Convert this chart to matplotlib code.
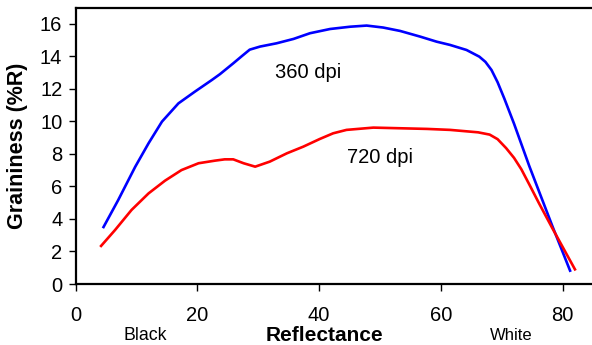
import matplotlib
matplotlib.use('Agg')
import matplotlib.pyplot as plt
import numpy as np

plt.rcParams['font.family'] = ['Liberation Sans', 'DejaVu Sans']

### data ###
x_360 = [4.6, 7.0, 9.8, 12.0, 14.2, 16.9, 19.6, 22.4, 23.7, 25.9, 27.3, 28.6, 30.3, 33.0,
         35.8, 38.5, 41.8, 45.1, 47.8, 50.5, 53.3, 56.6, 59.3, 61.5, 64.2, 66.3,
         67.3, 68.3, 69.3, 70.4, 72.0, 74.5, 78.3, 81.2]
y_360 = [3.5, 5.15, 7.2, 8.65, 9.98, 11.1, 11.82, 12.54, 12.89, 13.56, 14.0, 14.4, 14.59, 14.79,
         15.06, 15.41, 15.67, 15.81, 15.88, 15.76, 15.55, 15.2, 14.89, 14.69, 14.38, 13.97,
         13.65, 13.15, 12.4, 11.4, 9.85, 7.25, 3.55, 0.82]

x_720 = [4.2, 6.5, 9.2, 12.0, 14.7, 17.4, 20.2, 22.9, 24.5, 25.9, 27.6, 29.5, 31.9,
         34.7, 37.4, 40.1, 42.3, 44.5, 48.9, 53.3, 57.7, 61.5, 66.1, 68.0, 69.3,
         70.7, 72.0, 73.2, 74.6, 76.1, 78.3, 82.0]
y_720 = [2.34, 3.32, 4.55, 5.57, 6.35, 7.0, 7.42, 7.58, 7.66, 7.66, 7.42, 7.21, 7.52,
         8.03, 8.44, 8.91, 9.26, 9.47, 9.61, 9.57, 9.53, 9.47, 9.32, 9.18, 8.9,
         8.35, 7.75, 7.05, 6.05, 4.96, 3.42, 0.9]

x_ticks = [0, 20, 40, 60, 80]
y_ticks = [0, 2, 4, 6, 8, 10, 12, 14, 16]

fig = plt.figure(figsize=(5.92, 3.45), dpi=100)
ax = fig.add_axes([75.5 / 592, 1 - 284 / 345, (592 - 75.5) / 592, 276 / 345])

ax.plot(x_360, y_360, color='#0000ff', lw=1.9, solid_joinstyle='round')
ax.plot(x_720, y_720, color='#ff0000', lw=1.9, solid_joinstyle='round')

ax.set_xlim(0, 84.8)
ax.set_ylim(0, 16.96)
ax.set_xticks(x_ticks)
ax.set_yticks(y_ticks)
ax.tick_params(axis='both', labelsize=14.5, length=5, width=1, direction='out')
ax.tick_params(axis='x', pad=11)
ax.tick_params(axis='y', pad=4.5)

ax.spines['right'].set_visible(False)
for s in ['left', 'bottom', 'top']:
    ax.spines[s].set_linewidth(1.6)

ax.text(32.7, 13.0, '360 dpi', fontsize=14.5, va='center', ha='left')
ax.text(44.5, 7.8, '720 dpi', fontsize=14.5, va='center', ha='left')

fig.text(17.5 / 592, 1 - 146 / 345, 'Graininess (%R)', rotation=90, fontsize=15.5,
         fontweight='bold', ha='center', va='center')
fig.text(324.2 / 592, 1 - 335.5 / 345, 'Reflectance', fontsize=15, fontweight='bold',
         ha='center', va='center')
fig.text(145 / 592, 1 - 335.5 / 345, 'Black', fontsize=12.8, ha='center', va='center')
fig.text(510.8 / 592, 1 - 335.5 / 345, 'White', fontsize=12, ha='center', va='center')

fig.savefig('out.png', dpi=100)
